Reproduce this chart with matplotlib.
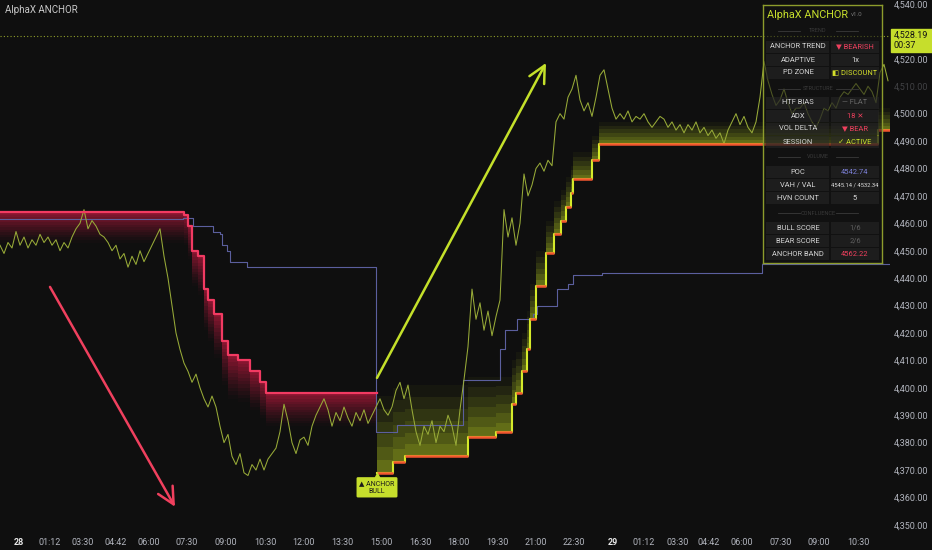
import numpy as np
import matplotlib
matplotlib.use('Agg')
import matplotlib.pyplot as plt
from matplotlib.patches import Rectangle

plt.rcParams['font.family'] = ['Roboto', 'DejaVu Sans']

W, H = 932, 550
BG = '#0f0f0f'

# price, sampled every 4 bars
price = [4452, 4449, 4453, 4451, 4457, 4452, 4455, 4451, 4454, 4452,
         4456, 4453, 4455, 4452, 4454, 4450, 4453, 4451, 4455, 4458,
         4460, 4465, 4458, 4461, 4459, 4456,
         4455, 4453, 4450, 4452, 4447, 4449, 4444, 4448, 4445, 4450, 4446, 4449, 4452, 4455, 4458,
         4448, 4440, 4430, 4420, 4414, 4409, 4406, 4402, 4405, 4400,
         4396, 4393, 4397, 4393, 4386, 4380, 4383, 4375, 4372, 4376,
         4369, 4368, 4372, 4370, 4374, 4370, 4374, 4376, 4378, 4384,
         4394, 4388, 4380, 4376, 4381,
         4382, 4379, 4386, 4390, 4393, 4396, 4392, 4386, 4391, 4388,
         4393, 4389, 4386, 4391, 4388, 4392, 4387, 4390, 4393,
         4396, 4392, 4390, 4393, 4399, 4402, 4396, 4401, 4392, 4384,
         4379, 4386, 4383, 4388, 4380, 4386, 4384, 4390, 4386, 4379,
         4392, 4403, 4415, 4436, 4425, 4431, 4421, 4428, 4419, 4426, 4432,
         4465, 4455, 4462, 4452, 4460, 4478, 4470, 4474, 4480, 4482,
         4479, 4483, 4481, 4497, 4500, 4498, 4506, 4509, 4514, 4505,
         4501, 4504, 4499, 4506, 4514,
         4516, 4509, 4502, 4498, 4500, 4498, 4501, 4497, 4499, 4498,
         4500, 4497, 4495, 4497, 4499, 4498, 4495, 4497, 4494, 4496,
         4493, 4496, 4494, 4497, 4493, 4495, 4492, 4494, 4491, 4493,
         4489, 4494, 4497, 4500, 4496, 4499, 4495, 4493, 4497, 4506,
         4519, 4512, 4507, 4503, 4505, 4509, 4504, 4500, 4502, 4502,
         4504, 4500, 4497, 4495, 4498, 4502, 4501, 4504, 4502, 4506,
         4508, 4507, 4509, 4511, 4509, 4507, 4510, 4508, 4504, 4515,
         4518, 4512]
bar = np.arange(len(price)) * 4

# bearish anchor (red) and its band depth
bear_x = [0, 184, 188, 192, 198, 204, 208, 214, 222, 228, 238, 250, 260, 266, 377]
bear_lvl = [4464, 4463, 4459, 4450, 4448, 4436, 4432, 4427, 4417, 4412, 4410, 4406, 4402, 4398, 4398]
bear_depth = [11, 11, 12, 13, 14, 15, 15, 16, 16, 16, 15, 14, 13, 12, 12]

# bullish anchor (green/orange) and its band depth
bull_x = [377, 393, 405, 468, 496, 512, 516, 522, 527, 530, 536, 546, 554, 561, 566, 571, 573, 592, 599, 878, 890]
bull_lvl = [4369, 4373, 4375, 4382, 4384, 4394, 4398, 4406, 4414, 4425, 4437, 4449, 4456, 4461, 4466, 4471, 4476, 4483, 4489, 4494, 4494]
bull_depth = [28, 27, 26, 22, 20, 16, 15, 14, 14, 13, 13, 12, 12, 11, 11, 10, 10, 9, 8, 8, 8]

# point of control line
poc_x = [0, 183, 193, 213, 220, 222, 227, 230, 247, 376, 397, 463, 500, 505, 517, 533, 537, 557, 568, 573, 602, 762, 890]
poc_lvl = [4461.5, 4462, 4459, 4457, 4456, 4452, 4450, 4446, 4444, 4384, 4386.5, 4403, 4414, 4421, 4425, 4427,
           4430, 4436, 4438, 4441, 4442, 4445, 4445]

last_price = 4528.19
bear_arrow = [(50, 4436.8), (175, 4356.6)]
bull_arrow = [(377, 4403.6), (546, 4518.5)]

time_pos = [19, 50, 83, 116, 149, 187, 226, 265, 304, 342, 381, 420, 458, 497, 536, 574,
            613, 644, 678, 709, 742, 781, 819, 858]
time_lbl = ['28', '01:12', '03:30', '04:42', '06:00', '07:30', '09:00', '10:30', '12:00', '13:30',
            '15:00', '16:30', '18:00', '19:30', '21:00', '22:30',
            '29', '01:12', '03:30', '04:42', '06:00', '07:30', '09:00', '10:30']
price_levels = list(range(4350, 4541, 10))

row_labels = ['', 'ANCHOR TREND', 'ADAPTIVE', 'PD ZONE', '', 'HTF BIAS', 'ADX', 'VOL DELTA', 'SESSION',
              '', 'POC', 'VAH / VAL', 'HVN COUNT', '', 'BULL SCORE', 'BEAR SCORE', 'ANCHOR BAND']
row_values = ['TREND', '▼ BEARISH', '1x', '◧ DISCOUNT', 'STRUCTURE', '— FLAT', '18 ✕', '▼ BEAR', '✓ ACTIVE',
              'VOLUME', '4542.74', '4545.14 / 4532.34', '5', 'CONFLUENCE', '1/6', '2/6', '4562.22']
row_colors = ['#555555', '#f0405e', '#dddddd', '#d4e02a', '#555555', '#6a6a6a', '#f0405e', '#f0405e', '#c8e02c',
              '#555555', '#7c80d8', '#dddddd', '#dddddd', '#555555', '#5e5e5e', '#5e5e5e', '#f0405e']


def band(ax, xs, lvl, depth, sign, color, n, a0):
    lvl = np.array(lvl, dtype=float)
    depth = np.array(depth, dtype=float)
    for k in range(n):
        a = lvl + sign * depth * k / n
        b = lvl + sign * depth * (k + 1) / n
        ax.fill_between(xs, a, b, step='post', color=color, alpha=a0 * (1 - k / n) ** 1.3,
                        lw=0, zorder=1)


fig = plt.figure(figsize=(W / 100, H / 100), dpi=100, facecolor=BG)
ax = fig.add_axes([0, 18 / H, 890 / W, 532 / H])
ax.set_facecolor(BG)
ax.set_xlim(0, 890)
ax.set_ylim(4347.4, 4541.46)
for s in ax.spines.values():
    s.set_visible(False)

band(ax, bear_x, bear_lvl, bear_depth, -1, '#d01a44', 12, 0.62)
band(ax, bull_x, bull_lvl, bull_depth, 1, '#b5cc20', 6, 0.5)

ax.step(poc_x, poc_lvl, where='post', color='#5b5f9e', lw=0.8, zorder=2)
ax.plot(bar, price, color='#98ab38', lw=0.75, zorder=3)

ax.step(bear_x, bear_lvl, where='post', color='#f23a62', lw=1.6, zorder=4)
ax.step(bull_x, bull_lvl, where='post', color='#d4ea2a', lw=1.5, zorder=4)
ax.hlines(bull_lvl[:-1], bull_x[:-1], bull_x[1:], color='#f2552f', lw=1.8, zorder=5)

ax.axhline(last_price, color='#8fa02a', ls=(0, (1, 2)), lw=0.8, zorder=2)

ax.annotate('', xy=bear_arrow[1], xytext=bear_arrow[0],
            arrowprops=dict(arrowstyle='->,head_length=1.0,head_width=0.5', color='#f0405e', lw=1.8,
                            shrinkA=0, shrinkB=0, mutation_scale=12), zorder=6)
ax.annotate('', xy=bull_arrow[1], xytext=bull_arrow[0],
            arrowprops=dict(arrowstyle='->,head_length=1.0,head_width=0.5', color='#c4e02a', lw=1.8,
                            shrinkA=0, shrinkB=0, mutation_scale=12), zorder=6)

ax.plot(bull_x[0], bull_lvl[0] - 1.3, marker='^', color='#c6de2c', ms=5, zorder=6)
ax.text(bull_x[0], bull_lvl[0] - 5.3, '▲ ANCHOR\nBULL', ha='center', va='center', fontsize=5,
        color='#1a1a1a', linespacing=1.15, zorder=7,
        bbox=dict(boxstyle='round,pad=0.4,rounding_size=0.2', fc='#c6de2c', ec='none'))

# axes ticks
ax.set_xticks(time_pos)
ax.set_xticklabels(time_lbl)
ax.tick_params(axis='x', length=0, pad=4, labelsize=6.5, colors='#b2b5be')
for t in ax.get_xticklabels():
    if t.get_text() in ('28', '29'):
        t.set_fontweight('bold')
        t.set_color('#e8e8e8')
ax.yaxis.tick_right()
ax.set_yticks(price_levels)
ax.set_yticklabels(['{:,.2f}'.format(v) for v in price_levels])
ax.tick_params(axis='y', length=0, pad=3, labelsize=6.5, colors='#b2b5be')
for t, v in zip(ax.get_yticklabels(), price_levels):
    if v == 4530:
        t.set_visible(False)
    if v == 4510:
        t.set_alpha(0.3)

fig.text(5 / W, 1 - 10 / H, 'AlphaX ANCHOR', color='#c8c8c8', fontsize=7, va='center')

# last price tag
fig.patches.append(Rectangle((891 / W, 1 - 52 / H), 41 / W, 23 / H, transform=fig.transFigure,
                             color='#c6de2c', zorder=5))
fig.text(894 / W, 1 - 35 / H, '{:,.2f}'.format(last_price), color='#141414', fontsize=6.5, va='center', zorder=6)
fig.text(894 / W, 1 - 46 / H, '00:37', color='#141414', fontsize=6.5, va='center', zorder=6)

# info table
tax = fig.add_axes([763 / W, 1 - 263 / H, 119 / W, 258 / H])
tax.set_xlim(763, 882)
tax.set_ylim(263, 5)
tax.set_facecolor('#141414')
tax.patch.set_alpha(0.55)
tax.set_xticks([])
tax.set_yticks([])
for s in tax.spines.values():
    s.set_color('#8d9c2c')
    s.set_linewidth(1)

tax.text(767, 15, 'AlphaX ANCHOR', color='#c8e02c', fontsize=7.8, va='center')
tax.text(857, 15, 'v1.0', color='#777777', fontsize=4.5, ha='center', va='center')
row_y = [31, 47, 60, 73, 89, 103, 116, 129, 142, 157, 172, 185, 198, 213, 228, 241, 254]
for y, lab, val, col in zip(row_y, row_labels, row_values, row_colors):
    if lab == '':
        tax.plot([778, 800], [y, y], color='#3a3a3a', lw=0.6)
        tax.plot([836, 858], [y, y], color='#3a3a3a', lw=0.6)
        tax.text(818, y, val, color=col, fontsize=4, ha='center', va='center', alpha=0.6)
        continue
    tax.add_patch(Rectangle((766, y - 6.2), 63, 12.4, fc='#2a2a2a', ec='none', alpha=0.5))
    tax.add_patch(Rectangle((831, y - 6.2), 48, 12.4, fc='#2a2a2a', ec='none', alpha=0.5))
    tax.text(798, y, lab, color='#d6d6d6', fontsize=5.4, ha='center', va='center')
    fs = 4.2 if '/' in val and len(val) > 5 else 5.4
    tax.text(855, y, val, color=col, fontsize=fs, ha='center', va='center')

fig.savefig('out.png', dpi=100, facecolor=BG)
